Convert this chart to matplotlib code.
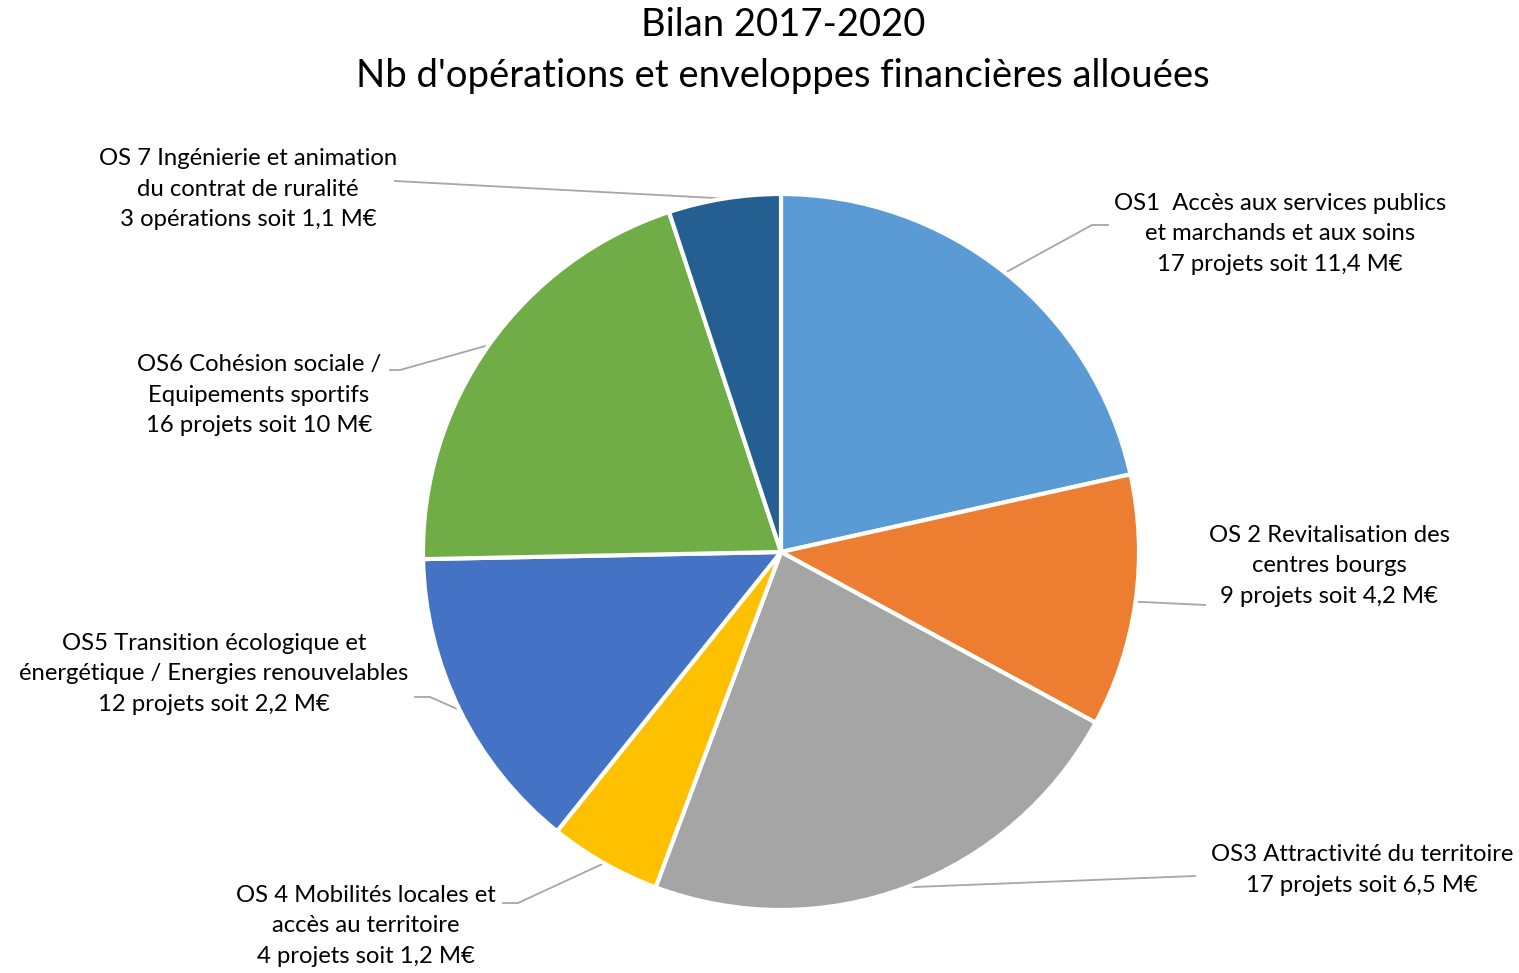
import matplotlib
matplotlib.use("Agg")
import matplotlib.pyplot as plt
import numpy as np

plt.rcParams['font.family'] = ['Lato', 'DejaVu Sans']

categories = [
    "OS1  Accès aux services publics\net marchands et aux soins\n17 projets soit 11,4 M€",
    "OS 2 Revitalisation des\ncentres bourgs\n9 projets soit 4,2 M€",
    "OS3 Attractivité du territoire\n17 projets soit 6,5 M€",
    "OS 4 Mobilités locales et\naccès au territoire\n4 projets soit 1,2 M€",
    "OS5 Transition écologique et\nénergétique / Energies renouvelables\n12 projets soit 2,2 M€",
    "OS6 Cohésion sociale /\nEquipements sportifs\n16 projets soit 10 M€",
    "OS 7 Ingénierie et animation\ndu contrat de ruralité\n3 opérations soit 1,1 M€",
]
# slice sizes
slice_values = [17, 9, 18, 4, 11, 16, 4]
colors = ["#5B9BD5", "#ED7D31", "#A5A5A5", "#FFC000", "#4472C4", "#70AD47", "#255E91"]

W, H = 1519, 973
fig = plt.figure(figsize=(W / 100, H / 100), dpi=100)
ax = fig.add_axes([0, 0, 1, 1])

cx, cy, R = 781, 552, 358
# y axis is inverted (pixel-like coords): start at visual top, go clockwise visually
wedges, _ = ax.pie(slice_values, colors=colors, startangle=-90, counterclock=True,
                   center=(cx, cy), radius=R, frame=True,
                   wedgeprops=dict(edgecolor='white', linewidth=3))
ax.set_xlim(0, W)
ax.set_ylim(H, 0)
ax.set_aspect('equal')
ax.axis('off')

# label layout: text center, knee point, end point
layout = [
    dict(text=(1280, 234), knee=(1092, 225), end=(1108, 225)),
    dict(text=(1329, 566), knee=(1205, 605), end=(1205, 605)),
    dict(text=(1362, 870), knee=(1195, 876), end=(1195, 876)),
    dict(text=(366, 926), knee=(518, 903), end=(503, 903)),
    dict(text=(214, 674), knee=(430, 697), end=(415, 697)),
    dict(text=(259, 395), knee=(400, 370), end=(390, 370)),
    dict(text=(248, 189), knee=(395, 181), end=(395, 181)),
]

for w, lab, lay in zip(wedges, categories, layout):
    mid = np.deg2rad((w.theta1 + w.theta2) / 2)
    p = (cx + R * np.cos(mid), cy + R * np.sin(mid))
    xs = [p[0], lay['knee'][0], lay['end'][0]]
    ys = [p[1], lay['knee'][1], lay['end'][1]]
    ax.plot(xs, ys, color='#A6A6A6', lw=1.3, zorder=0)
    ax.text(lay['text'][0], lay['text'][1], lab, ha='center', va='center',
            fontsize=17.2, linespacing=1.58, color='#000000')

ax.text(783, 25, "Bilan 2017-2020", ha='center', va='center', fontsize=27.5)
ax.text(783, 76, "Nb d'opérations et enveloppes financières allouées", ha='center', va='center', fontsize=27.5)

fig.savefig("out.png", dpi=100)
